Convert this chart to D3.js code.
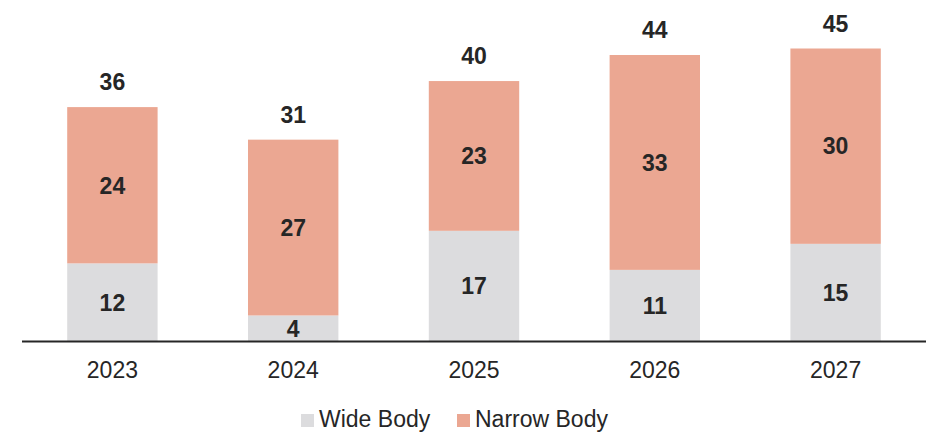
<!DOCTYPE html>
<html>
<head>
<meta charset="utf-8">
<script src="https://cdn.jsdelivr.net/npm/d3@7"></script>
<style>
  body { margin: 0; background: #fff; overflow: hidden; }
  text { font-family: "Liberation Sans", Arial, sans-serif; fill: #262626; }
</style>
</head>
<body>
<svg></svg>
<script>
var years = ["2023", "2024", "2025", "2026", "2027"];
var wideBody = [12, 4, 17, 11, 15];
var narrowBody = [24, 27, 23, 33, 30];
var seriesNames = ["Wide Body", "Narrow Body"];
var colors = ["#dcdcde", "#eba792"];

var width = 926, height = 432;
var baseline = 341.5;

var svg = d3.select("svg").attr("width", width).attr("height", height).style("display", "block");

var x = d3.scaleBand().domain(years).range([22, 926]).paddingInner(0.5).paddingOuter(0.25);
var y = d3.scaleLinear().domain([0, 45]).range([baseline, 48.5]);

var rows = years.map(function(yr, i) {
    return { year: yr, wide: wideBody[i], narrow: narrowBody[i] };
});
var stack = d3.stack().keys(["wide", "narrow"])(rows);

var layer = svg.selectAll("g.layer")
    .data(stack)
    .enter().append("g")
    .attr("class", "layer")
    .attr("fill", function(d, i) { return colors[i]; });

layer.selectAll("rect")
    .data(function(d) { return d; })
    .enter().append("rect")
    .attr("x", function(d) { return x(d.data.year); })
    .attr("width", x.bandwidth())
    .attr("y", function(d) { return y(d[1]); })
    .attr("height", function(d) { return y(d[0]) - y(d[1]); });

// segment labels
layer.selectAll("text")
    .data(function(d) { return d; })
    .enter().append("text")
    .attr("x", function(d) { return x(d.data.year) + x.bandwidth() / 2; })
    .attr("y", function(d) { return (y(d[0]) + y(d[1])) / 2; })
    .attr("dy", "0.36em")
    .attr("text-anchor", "middle")
    .style("font-size", "23px")
    .style("font-weight", "bold")
    .text(function(d) { return d[1] - d[0]; });

// totals
svg.selectAll("text.total")
    .data(rows)
    .enter().append("text")
    .attr("class", "total")
    .attr("x", function(d) { return x(d.year) + x.bandwidth() / 2; })
    .attr("y", function(d) { return y(d.wide + d.narrow) - 17; })
    .attr("text-anchor", "middle")
    .style("font-size", "23px")
    .style("font-weight", "bold")
    .text(function(d) { return d.wide + d.narrow; });

// x axis
var xAxis = svg.append("g")
    .attr("transform", "translate(0," + baseline + ")")
    .call(d3.axisBottom(x).tickSize(0).tickPadding(20));
xAxis.select(".domain").attr("stroke", "#262626").attr("stroke-width", 2).attr("d", "M22,0H926");
xAxis.selectAll("text")
    .style("font-size", "23px")
    .style("font-family", "\"Liberation Sans\", Arial, sans-serif")
    .attr("fill", "#262626");

// legend
var legendPos = [301, 457];
var legend = svg.selectAll("g.legend")
    .data(seriesNames)
    .enter().append("g")
    .attr("class", "legend")
    .attr("transform", function(d, i) { return "translate(" + legendPos[i] + ",0)"; });
legend.append("rect")
    .attr("y", 414)
    .attr("width", 13)
    .attr("height", 13)
    .attr("fill", function(d, i) { return colors[i]; });
legend.append("text")
    .attr("x", 18)
    .attr("y", 427)
    .style("font-size", "23px")
    .text(function(d) { return d; });
</script>
</body>
</html>
